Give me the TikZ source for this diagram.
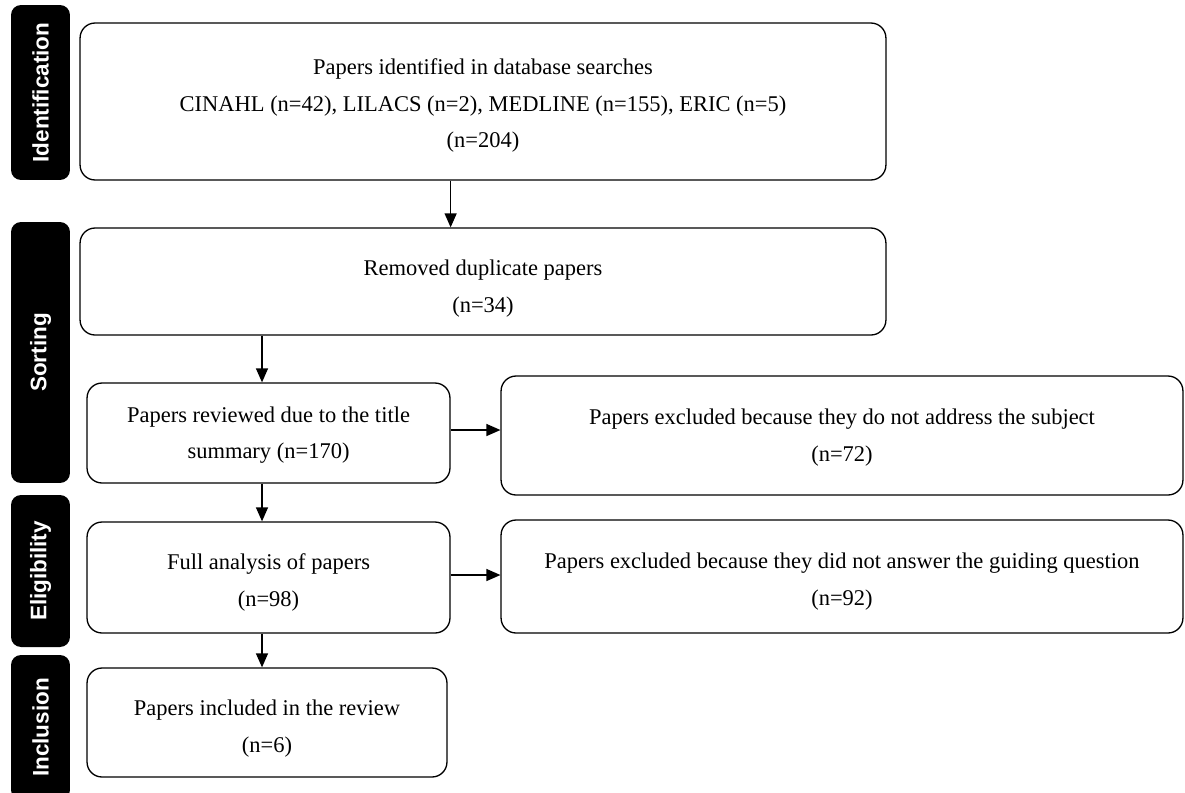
\documentclass[tikz,border=0pt]{standalone}
\usepackage{fontspec}
\setmainfont{Liberation Serif}
\newfontfamily\stagefont{Liberation Sans}
\usepackage{tikz}
\usetikzlibrary{calc,arrows.meta}
% extra room above the first line, pushes the text down a little
\newcommand{\padtop}[1]{\rule{0pt}{#1}}

\begin{document}
\begin{tikzpicture}[x=0.02cm,y=-0.02cm,
  box/.style={draw,rounded corners=0.3cm,line width=0.75pt,align=center,
    font=\fontsize{12.8}{21}\selectfont,inner sep=0pt},
  stage/.style={fill=black,rounded corners=0.2cm,minimum height=1.18cm,
    text=white,font=\stagefont\bfseries\fontsize{12.8}{15}\selectfont,rotate=90},
  arr/.style={line width=0.75pt,-{Triangle[length=0.28cm,width=0.24cm]}}]
  \clip (0,0) rectangle (1185,792);
  % stages
  \node[stage,minimum width=3.5cm] (sid) at (40.5,92.5) {Identification};
  \node[stage,minimum width=5.22cm] (ssort) at (40.5,352.5) {Sorting};
  \node[stage,minimum width=3.04cm] (selig) at (40.5,571) {Eligibility};
  \node[stage,minimum width=2.9cm] (sincl) at (40.5,727.5) {Inclusion};
  % boxes
  \node[box,minimum width=16.12cm,minimum height=3.14cm] (ident) at (483,101.5)
    {\padtop{13.6pt}Papers identified in database searches\\
     CINAHL (n=42), LILACS (n=2), MEDLINE (n=155), ERIC (n=5)\\
     (n=204)};
  \node[box,minimum width=16.12cm,minimum height=2.14cm] (dup) at (483,281.5)
    {\padtop{17pt}Removed duplicate papers\\(n=34)};
  \node[box,minimum width=7.26cm,minimum height=2cm] (rev) at (268.5,433)
    {\padtop{11.3pt}Papers reviewed due to the title\\summary (n=170)};
  \node[box,minimum width=13.64cm,minimum height=2.38cm] (exsub) at (842,435.5)
    {\padtop{11.3pt}Papers excluded because they do not address the subject\\(n=72)};
  \node[box,minimum width=7.26cm,minimum height=2.22cm] (full) at (268.5,577.5)
    {\padtop{15pt}Full analysis of papers\\(n=98)};
  \node[box,minimum width=13.64cm,minimum height=2.26cm] (exq) at (842,576.5)
    {\padtop{15pt}Papers excluded because they did not answer the guiding question\\(n=92)};
  \node[box,minimum width=7.2cm,minimum height=2.18cm] (incl) at (267,722.5)
    {\padtop{15.5pt}Papers included in the review\\(n=6)};
  % arrows
  \draw[arr] (ident.south -| rev.east) -- (dup.north -| rev.east);
  \draw[arr] ([xshift=-0.13cm]dup.south -| rev.north) -- ([xshift=-0.13cm]rev.north);
  \draw[arr] ([xshift=-0.13cm]rev.south) -- ([xshift=-0.13cm]full.north);
  \draw[arr] ([xshift=-0.13cm]full.south) -- ([xshift=-0.13cm]incl.north -| full.north);
  \draw[arr] ([yshift=0.06cm]rev.east) -- ([yshift=0.06cm]rev.east -| exsub.west);
  \draw[arr] ([yshift=0.05cm]full.east) -- ([yshift=0.05cm]full.east -| exq.west);
\end{tikzpicture}
\end{document}
